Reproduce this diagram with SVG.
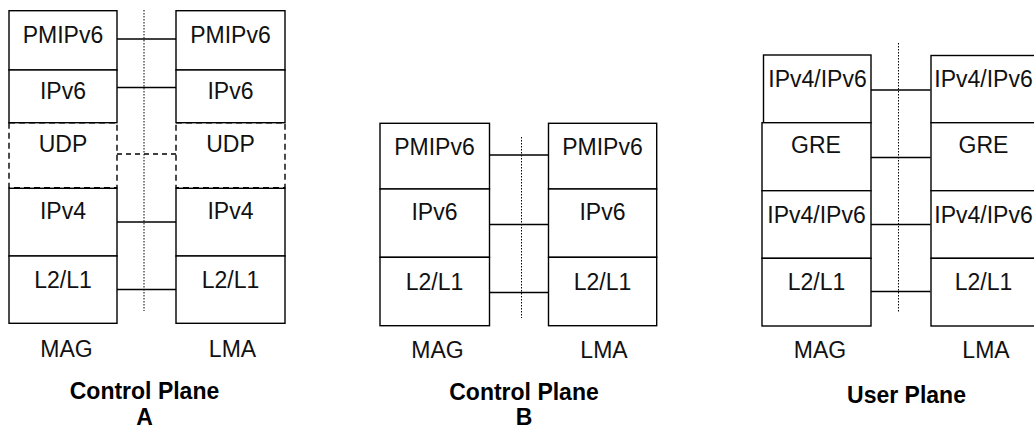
<svg xmlns="http://www.w3.org/2000/svg" width="1034" height="430" viewBox="0 0 1034 430">
<style>
.box{fill:#fff;stroke:#000;stroke-width:1.4}
.dbox{fill:none;stroke:#000;stroke-width:1.4;stroke-dasharray:6 4}
.t{font-family:"Liberation Sans",Arial,sans-serif;font-size:23px;fill:#111;text-anchor:middle}
.b{font-family:"Liberation Sans",Arial,sans-serif;font-size:23px;font-weight:bold;fill:#000;text-anchor:middle}
.c{stroke:#000;stroke-width:1.3;fill:none}
.cd{stroke:#000;stroke-width:1.3;fill:none;stroke-dasharray:5 4}
.dot{stroke:#000;stroke-width:1;fill:none;stroke-dasharray:1.5 1.5}
</style>
<rect width="1034" height="430" fill="#fff"/>

<g id="connectors">
<line class="dot" x1="144" y1="10" x2="144" y2="311"/>
<line class="c" x1="117" y1="39" x2="176" y2="39"/>
<line class="c" x1="117" y1="87.5" x2="176" y2="87.5"/>
<line class="cd" x1="117" y1="154" x2="176" y2="154"/>
<line class="c" x1="117" y1="222" x2="176" y2="222"/>
<line class="c" x1="117" y1="289.5" x2="176" y2="289.5"/>

<line class="dot" x1="521.5" y1="137" x2="521.5" y2="318"/>
<line class="c" x1="489.5" y1="155" x2="548.5" y2="155"/>
<line class="c" x1="489.5" y1="224.5" x2="548.5" y2="224.5"/>
<line class="c" x1="489.5" y1="292.5" x2="548.5" y2="292.5"/>

<line class="dot" x1="898.5" y1="43" x2="898.5" y2="313"/>
<line class="c" x1="871" y1="90" x2="930.5" y2="90"/>
<line class="c" x1="871" y1="157.5" x2="930.5" y2="157.5"/>
<line class="c" x1="871" y1="224.5" x2="930.5" y2="224.5"/>
<line class="c" x1="871" y1="291.5" x2="930.5" y2="291.5"/>
</g>

<g id="cpa-mag">
<rect class="box" x="9" y="10.7" width="108" height="59.3"/>
<text class="t" x="63" y="42.5">PMIPv6</text>
<rect class="box" x="9" y="70" width="108" height="52.7"/>
<text class="t" x="63" y="98.5">IPv6</text>
<rect class="dbox" x="9" y="122.7" width="108" height="65"/>
<text class="t" x="63" y="151.5">UDP</text>
<rect class="box" x="9" y="188.3" width="108" height="67.7"/>
<text class="t" x="63" y="219.3">IPv4</text>
<rect class="box" x="9" y="256" width="108" height="67.3"/>
<text class="t" x="63" y="288">L2/L1</text>
<text class="t" x="66.5" y="357">MAG</text>
</g>

<g id="cpa-lma">
<rect class="box" x="176" y="10.7" width="109" height="59.3"/>
<text class="t" x="230.5" y="42.5">PMIPv6</text>
<rect class="box" x="176" y="70" width="109" height="52.7"/>
<text class="t" x="230.5" y="98.5">IPv6</text>
<rect class="dbox" x="176" y="122.7" width="109" height="65"/>
<text class="t" x="230.5" y="151.5">UDP</text>
<rect class="box" x="176" y="188.3" width="109" height="67.7"/>
<text class="t" x="230.5" y="219.3">IPv4</text>
<rect class="box" x="176" y="256" width="109" height="67.3"/>
<text class="t" x="230.5" y="288">L2/L1</text>
<text class="t" x="232.5" y="357">LMA</text>
</g>

<g id="cpa-title">
<text class="b" x="144.5" y="399">Control Plane</text>
<text class="b" x="144.5" y="425">A</text>
</g>

<g id="cpb-mag">
<rect class="box" x="380" y="123.3" width="109.5" height="65.7"/>
<text class="t" x="434.5" y="155">PMIPv6</text>
<rect class="box" x="380" y="189" width="109.5" height="68.3"/>
<text class="t" x="434.5" y="220">IPv6</text>
<rect class="box" x="380" y="257.3" width="109.5" height="68.4"/>
<text class="t" x="434.5" y="290">L2/L1</text>
<text class="t" x="437.5" y="357.5">MAG</text>
</g>

<g id="cpb-lma">
<rect class="box" x="548.5" y="123.3" width="108.2" height="65.7"/>
<text class="t" x="602.5" y="155">PMIPv6</text>
<rect class="box" x="548.5" y="189" width="108.2" height="68.3"/>
<text class="t" x="602.5" y="220">IPv6</text>
<rect class="box" x="548.5" y="257.3" width="108.2" height="68.4"/>
<text class="t" x="602.5" y="290">L2/L1</text>
<text class="t" x="604" y="357.5">LMA</text>
</g>

<g id="cpb-title">
<text class="b" x="524" y="399.5">Control Plane</text>
<text class="b" x="524" y="425">B</text>
</g>

<g id="up-mag">
<rect class="box" x="763.5" y="55" width="107.5" height="67.7"/>
<text class="t" x="817.5" y="86.7">IPv4/IPv6</text>
<rect class="box" x="762" y="122.7" width="109" height="68"/>
<text class="t" x="816" y="152.7">GRE</text>
<rect class="box" x="762" y="190.7" width="109" height="67.6"/>
<text class="t" x="816.5" y="222.5">IPv4/IPv6</text>
<rect class="box" x="762" y="258.3" width="109" height="67.7"/>
<text class="t" x="816.5" y="290">L2/L1</text>
<text class="t" x="820" y="358">MAG</text>
</g>

<g id="up-lma">
<rect class="box" x="931" y="55.5" width="108" height="67.2"/>
<text class="t" x="983.5" y="86.7">IPv4/IPv6</text>
<rect class="box" x="931" y="122.7" width="108" height="68"/>
<text class="t" x="983.5" y="152.7">GRE</text>
<rect class="box" x="931" y="190.7" width="108" height="67.6"/>
<text class="t" x="983.5" y="222.5">IPv4/IPv6</text>
<rect class="box" x="931" y="258.3" width="108" height="67.7"/>
<text class="t" x="983.5" y="290">L2/L1</text>
<text class="t" x="986" y="358">LMA</text>
</g>

<g id="up-title">
<text class="b" x="906.5" y="403.3">User Plane</text>
</g>
</svg>
